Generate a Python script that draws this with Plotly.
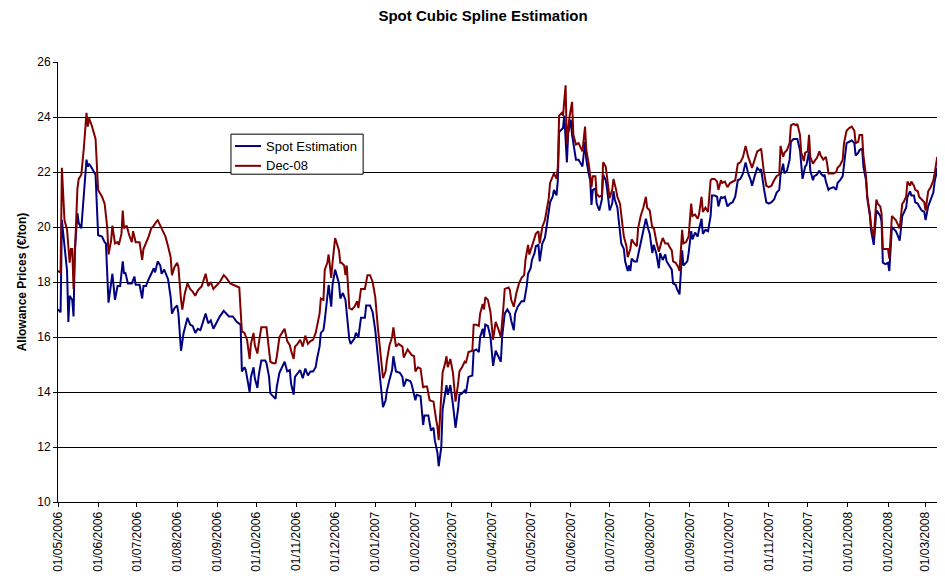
import pandas as pd
import plotly.graph_objects as go

# Values. Days are counted from 01/05/2006.
START = "2006-05-01"
END = "2008-03-16"

SPOT_DAYS = [0, 2, 3, 5, 7, 8, 9, 11, 12, 13, 15, 16, 18, 20, 22, 23, 24, 26, 29, 31,
             34, 36, 37, 39, 41, 42, 44, 46, 48, 50, 51, 52, 54, 57, 59, 60, 63, 64, 65, 66,
             68, 69, 72, 74, 75, 77, 79, 80, 82, 84, 85, 87, 88, 90, 92, 93, 95, 97, 100, 102,
             104, 106, 108, 110, 112, 114, 116, 118, 120, 122, 125, 128, 132, 135, 138, 141, 142, 144, 145, 148,
             149, 151, 152, 154, 155, 157, 160, 161, 163, 164, 166, 168, 169, 171, 173, 175, 177, 179, 180, 182,
             183, 185, 187, 189, 191, 193, 195, 197, 199, 200, 202, 203, 205, 206, 208, 209, 211, 212, 214, 215,
             217, 218, 220, 222, 223, 225, 226, 229, 230, 232, 234, 237, 238, 241, 243, 245, 247, 249, 251, 253,
             254, 256, 258, 259, 261, 264, 266, 267, 269, 272, 273, 276, 277, 280, 282, 283, 286, 288, 290, 291,
             293, 294, 296, 297, 299, 300, 301, 303, 305, 307, 309, 310, 312, 314, 315, 317, 320, 321, 323, 325,
             326, 328, 329, 330, 332, 334, 336, 338, 340, 342, 343, 345, 347, 349, 350, 352, 353, 355, 358, 360,
             362, 363, 365, 366, 368, 369, 371, 372, 374, 376, 377, 379, 380, 382, 383, 385, 386, 387, 388, 390,
             391, 393, 394, 396, 397, 399, 400, 402, 404, 405, 407, 408, 410, 411, 412, 413, 415, 416, 418, 420,
             421, 423, 424, 426, 428, 429, 430, 432, 433, 435, 437, 438, 440, 441, 442, 443, 445, 447, 449, 451,
             453, 454, 456, 457, 459, 460, 462, 464, 465, 467, 469, 470, 472, 474, 475, 477, 478, 480, 482, 483,
             486, 487, 489, 490, 492, 494, 495, 497, 498, 500, 502, 504, 505, 507, 509, 510, 512, 513, 515, 517,
             519, 521, 523, 525, 527, 529, 531, 533, 535, 536, 538, 540, 542, 543, 545, 547, 549, 551, 553, 555,
             557, 558, 560, 561, 563, 565, 566, 568, 570, 571, 573, 574, 575, 577, 578, 580, 581, 583, 584, 586,
             588, 589, 591, 592, 593, 595, 596, 599, 601, 602, 604, 606, 607, 609, 611, 613, 615, 616, 618, 619,
             621, 622, 624, 625, 627, 628, 630, 632, 633, 635, 636, 637, 639, 641, 642, 644, 645, 647, 648, 650,
             652, 653, 655, 656, 658, 659, 661, 662, 664, 665, 667, 669, 670, 672, 674, 676, 677, 679, 680, 682,
             683, 685]
SPOT_VALUES = [17.0, 16.9, 20.25, 19.2, 18.4, 16.55, 17.5, 17.35, 16.75, 19.15, 20.5, 20.15, 19.95, 21.2, 22.45, 22.2, 22.3, 22.15, 21.9, 19.7,
               19.65, 19.45, 19.4, 17.25, 17.85, 18.3, 17.35, 17.85, 17.85, 18.75, 18.3, 18.35, 17.95, 17.95, 18.2, 17.9, 17.9, 17.6, 17.4, 17.85,
               17.85, 18.0, 18.3, 18.5, 18.35, 18.75, 18.6, 18.3, 18.45, 18.2, 18.1, 17.45, 16.85, 17.05, 17.15, 16.85, 15.5, 16.15, 16.7, 16.45,
               16.4, 16.15, 16.3, 16.25, 16.6, 16.85, 16.5, 16.6, 16.3, 16.5, 16.75, 16.95, 16.75, 16.75, 16.55, 16.45, 14.75, 14.9, 14.8, 14.0,
               14.55, 14.9, 14.5, 14.15, 14.6, 15.15, 15.15, 15.05, 14.55, 13.95, 13.85, 13.75, 14.2, 14.7, 14.9, 15.1, 14.75, 14.8, 14.3, 13.9,
               14.55, 14.7, 14.8, 14.5, 14.85, 14.6, 14.75, 14.75, 14.9, 15.2, 15.65, 16.15, 16.25, 16.6, 17.35, 17.9, 17.1, 17.9, 18.45, 18.3,
               17.95, 17.4, 17.6, 17.35, 16.8, 15.9, 15.75, 15.95, 16.15, 16.0, 16.7, 16.7, 17.15, 17.15, 16.9, 16.25, 15.3, 14.45, 13.45, 13.7,
               14.05, 14.45, 14.8, 15.3, 14.75, 14.7, 14.55, 14.2, 14.45, 14.4, 14.3, 13.7, 13.9, 13.85, 12.8, 13.15, 13.15, 12.6, 12.7, 12.25,
               11.8, 11.3, 12.0, 13.35, 13.9, 14.25, 13.9, 14.25, 13.55, 12.7, 13.4, 13.9, 13.95, 14.05, 13.95, 14.55, 14.6, 15.5, 15.55, 15.45,
               16.0, 16.3, 16.0, 16.45, 16.4, 16.0, 14.95, 15.5, 15.3, 15.1, 16.0, 16.85, 17.0, 16.85, 16.6, 16.25, 16.85, 17.1, 17.3, 17.3,
               17.85, 18.3, 18.5, 18.8, 19.05, 19.3, 19.35, 18.75, 19.4, 19.6, 19.9, 20.5, 20.9, 21.1, 21.35, 21.15, 21.7, 23.45, 23.5, 23.6,
               24.05, 22.35, 23.4, 23.9, 23.35, 22.8, 22.45, 22.45, 22.25, 22.2, 23.1, 22.45, 21.9, 21.7, 20.8, 21.35, 21.4, 20.85, 20.6, 21.0,
               21.9, 21.7, 21.4, 20.6, 20.85, 21.3, 21.0, 20.7, 20.25, 19.4, 19.2, 18.75, 18.4, 18.6, 18.4, 18.85, 18.75, 18.75, 19.2, 19.65,
               20.15, 20.3, 19.9, 19.75, 19.05, 19.35, 19.05, 18.5, 19.05, 18.8, 19.0, 18.75, 18.6, 18.45, 17.95, 17.9, 17.75, 17.55, 19.15, 18.6,
               18.75, 19.05, 19.85, 19.55, 19.8, 19.65, 19.9, 20.3, 19.75, 19.9, 19.85, 20.4, 21.15, 21.15, 21.1, 20.75, 21.1, 21.05, 21.1, 20.75,
               20.85, 20.9, 21.1, 21.7, 21.75, 21.95, 22.35, 21.95, 21.7, 21.5, 21.85, 22.15, 22.05, 22.1, 21.45, 20.9, 20.85, 20.9, 21.0, 21.25,
               21.35, 21.9, 22.3, 21.95, 22.05, 22.45, 23.1, 23.2, 23.2, 23.2, 22.8, 22.15, 21.75, 22.2, 22.25, 22.75, 22.05, 21.7, 21.85, 21.9,
               22.05, 21.95, 21.85, 21.9, 21.65, 21.35, 21.4, 21.45, 21.35, 21.6, 21.7, 21.85, 22.3, 23.05, 23.1, 23.15, 23.05, 22.6, 22.7, 22.8,
               22.85, 22.2, 21.7, 21.05, 20.4, 19.85, 19.35, 20.6, 20.55, 20.4, 20.2, 18.7, 18.65, 18.7, 18.4, 20.0, 19.95, 19.85, 19.75, 19.5,
               20.4, 20.5, 20.7, 21.1, 21.3, 21.15, 21.15, 20.9, 20.85, 20.75, 20.6, 20.55, 20.25, 20.75, 21.0, 21.25, 21.65, 22.15, 21.45, 21.05,
               21.3, 21.4]

DEC08_DAYS = [0, 2, 3, 5, 7, 9, 10, 11, 12, 14, 15, 16, 18, 20, 22, 23, 24, 26, 29, 31,
              34, 36, 38, 39, 41, 42, 44, 46, 47, 49, 50, 51, 53, 55, 57, 58, 60, 63, 65, 66,
              68, 70, 72, 74, 76, 77, 80, 83, 85, 87, 88, 90, 92, 93, 95, 96, 98, 100, 102, 104,
              106, 108, 111, 113, 114, 116, 118, 120, 122, 125, 128, 130, 133, 135, 138, 140, 142, 144, 146, 148,
              149, 151, 152, 154, 155, 157, 161, 162, 164, 166, 168, 169, 171, 173, 175, 177, 179, 180, 182, 183,
              185, 187, 189, 191, 193, 195, 197, 199, 200, 202, 203, 205, 206, 208, 209, 211, 212, 214, 215, 217,
              218, 219, 221, 222, 223, 225, 227, 229, 231, 232, 234, 237, 239, 241, 243, 245, 247, 249, 251, 253,
              254, 256, 258, 259, 261, 263, 265, 266, 267, 269, 270, 273, 275, 276, 278, 280, 282, 283, 285, 287,
              289, 290, 292, 293, 294, 296, 297, 299, 300, 301, 303, 305, 307, 309, 310, 312, 314, 315, 317, 320,
              321, 323, 325, 326, 328, 329, 330, 332, 334, 336, 338, 340, 342, 344, 345, 348, 349, 350, 352, 354,
              356, 358, 360, 361, 363, 364, 366, 368, 369, 371, 372, 374, 376, 377, 379, 380, 382, 383, 385, 386,
              387, 389, 390, 392, 393, 395, 397, 398, 400, 402, 404, 405, 407, 408, 410, 411, 412, 413, 415, 416,
              418, 420, 421, 423, 424, 426, 428, 429, 431, 432, 434, 436, 437, 439, 440, 442, 443, 445, 447, 448,
              450, 452, 454, 455, 457, 459, 460, 462, 464, 466, 467, 469, 471, 472, 474, 475, 477, 479, 480, 482,
              483, 485, 487, 489, 490, 492, 494, 495, 497, 498, 500, 502, 504, 505, 507, 509, 510, 512, 513, 515,
              517, 519, 521, 523, 525, 527, 529, 531, 533, 535, 536, 538, 540, 542, 543, 545, 547, 549, 551, 553,
              555, 557, 558, 560, 561, 563, 565, 566, 568, 570, 571, 573, 574, 576, 577, 579, 580, 581, 583, 585,
              586, 588, 589, 591, 593, 594, 595, 597, 599, 601, 602, 604, 606, 607, 609, 611, 613, 615, 616, 618,
              619, 621, 622, 624, 625, 627, 628, 630, 632, 633, 635, 636, 637, 639, 641, 642, 644, 645, 647, 648,
              650, 652, 653, 655, 656, 658, 659, 661, 662, 664, 665, 667, 669, 670, 672, 674, 676, 677, 679, 680,
              682, 683, 685]
DEC08_VALUES = [18.4, 18.35, 22.15, 20.25, 19.9, 18.7, 19.2, 19.2, 17.75, 20.6, 21.4, 21.75, 21.9, 22.9, 24.15, 23.65, 23.95, 23.7, 23.2, 21.35,
                21.1, 20.85, 20.0, 19.0, 19.5, 20.05, 19.4, 19.45, 19.35, 19.75, 20.6, 19.95, 20.05, 19.7, 19.45, 19.85, 19.45, 19.45, 18.8, 19.2,
                19.4, 19.65, 19.95, 20.05, 20.2, 20.25, 19.95, 19.65, 19.3, 18.9, 18.25, 18.55, 18.7, 18.55, 17.35, 17.0, 17.6, 17.95, 17.75, 17.65,
                17.5, 17.7, 17.85, 18.15, 18.3, 17.85, 18.0, 17.75, 17.85, 18.0, 18.25, 18.15, 17.95, 17.9, 17.85, 17.8, 16.2, 16.15, 15.9, 15.2,
                15.75, 16.15, 15.7, 15.4, 15.75, 16.35, 16.35, 16.0, 15.1, 15.05, 15.05, 15.3, 16.0, 16.15, 16.3, 15.85, 15.7, 15.5, 15.2, 15.65,
                15.75, 15.9, 15.65, 16.05, 15.75, 15.85, 15.9, 16.15, 16.35, 16.85, 17.4, 17.35, 18.45, 18.7, 19.0, 18.15, 18.7, 19.6, 19.45, 19.15,
                18.7, 18.7, 18.6, 18.25, 18.6, 17.05, 17.0, 17.1, 17.3, 17.05, 17.75, 17.75, 18.25, 18.25, 18.0, 17.45, 16.35, 15.3, 14.5, 14.75,
                15.15, 15.7, 16.0, 16.35, 15.65, 15.75, 15.7, 15.65, 15.25, 15.45, 15.55, 15.35, 15.3, 14.75, 14.9, 14.85, 14.15, 14.2, 14.2, 13.7,
                13.65, 13.65, 13.0, 12.75, 12.25, 13.7, 14.7, 15.05, 15.3, 14.9, 15.2, 14.7, 13.65, 14.3, 14.75, 14.9, 15.1, 15.05, 15.45, 15.5,
                16.45, 16.45, 16.4, 16.85, 17.2, 17.0, 17.45, 17.35, 16.9, 15.9, 16.55, 16.3, 16.0, 17.1, 17.75, 17.8, 17.7, 17.35, 17.1, 17.6,
                17.95, 18.15, 18.25, 18.8, 19.35, 19.0, 19.3, 19.6, 19.75, 19.85, 19.4, 20.0, 20.25, 20.5, 21.05, 21.6, 21.85, 21.95, 21.75, 22.2,
                24.05, 24.15, 24.05, 25.15, 23.0, 24.0, 24.55, 23.35, 23.0, 23.05, 22.85, 22.75, 23.65, 22.8, 22.25, 21.7, 21.45, 21.85, 21.85, 21.2,
                21.1, 21.15, 22.35, 22.2, 21.85, 21.05, 21.35, 21.75, 21.35, 21.1, 20.85, 19.9, 19.65, 19.3, 18.9, 19.2, 19.55, 19.4, 19.3, 19.95,
                20.4, 20.7, 21.1, 20.7, 20.6, 19.95, 20.0, 19.5, 19.1, 19.45, 19.6, 19.4, 19.4, 19.3, 19.15, 18.75, 18.7, 18.55, 18.4, 19.9,
                19.4, 19.45, 19.65, 20.85, 20.4, 20.45, 20.3, 20.45, 21.1, 20.55, 20.7, 20.55, 21.7, 21.75, 21.75, 21.65, 21.35, 21.7, 21.6, 21.65,
                21.45, 21.6, 21.65, 21.7, 22.3, 22.35, 22.55, 22.95, 22.55, 22.3, 22.15, 22.45, 22.75, 22.8, 22.85, 22.05, 21.5, 21.45, 21.5, 21.7,
                21.85, 21.9, 22.95, 22.55, 22.7, 22.8, 23.05, 23.7, 23.75, 23.7, 23.75, 23.35, 22.7, 22.4, 22.7, 22.75, 23.35, 22.55, 22.3, 22.45,
                22.5, 22.75, 22.6, 22.45, 22.55, 22.3, 21.95, 21.95, 21.95, 22.0, 22.15, 22.25, 22.45, 23.05, 23.5, 23.6, 23.65, 23.5, 23.05, 23.1,
                23.35, 23.35, 22.6, 21.85, 21.1, 20.5, 20.0, 19.65, 21.0, 20.85, 20.75, 20.5, 19.2, 19.2, 19.2, 18.85, 20.4, 20.35, 20.25, 20.15,
                19.95, 20.85, 20.9, 21.1, 21.65, 21.5, 21.65, 21.5, 21.35, 21.3, 21.1, 21.0, 20.9, 20.6, 21.3, 21.45, 21.7, 21.95, 22.55, 22.0,
                21.65, 21.85, 21.9]

FONT = "Arial, Liberation Sans, sans-serif"
NAVY = "#000080"
MAROON = "#800000"

start = pd.Timestamp(START)
spot_x = start + pd.to_timedelta(SPOT_DAYS, unit="D")
dec08_x = start + pd.to_timedelta(DEC08_DAYS, unit="D")
month_ticks = pd.date_range(START, "2008-03-01", freq="MS")

fig = go.Figure()
fig.add_trace(go.Scatter(x=spot_x, y=SPOT_VALUES, mode="lines", name="Spot Estimation",
                         line=dict(color=NAVY, width=2)))
fig.add_trace(go.Scatter(x=dec08_x, y=DEC08_VALUES, mode="lines", name="Dec-08",
                         line=dict(color=MAROON, width=2)))

# Excel-style legend box drawn by hand (paper coordinates)
fig.add_shape(type="rect", xref="paper", yref="paper", x0=0.195, x1=0.344, y0=0.745, y1=0.836,
              line=dict(color="black", width=1), fillcolor="white", layer="above")
for name, color, ly in [("Spot Estimation", NAVY, 0.809), ("Dec-08", MAROON, 0.764)]:
    fig.add_shape(type="line", xref="paper", yref="paper", x0=0.1995, x1=0.2289, y0=ly, y1=ly,
                  line=dict(color=color, width=2), layer="above")
    fig.add_annotation(text=name, xref="paper", yref="paper", x=0.2322, y=ly,
                       xanchor="left", yanchor="middle", showarrow=False,
                       font=dict(size=13, family=FONT, color="black"))

fig.update_layout(
    width=937, height=572,
    margin=dict(l=50, r=0, t=54, b=78),
    paper_bgcolor="white", plot_bgcolor="white",
    font=dict(family=FONT, size=12, color="black"),
    title=dict(text="<b>Spot Cubic Spline Estimation</b>", x=0.507, xanchor="center",
               y=0.986, yanchor="middle", font=dict(size=15, family=FONT)),
    showlegend=False,
    xaxis=dict(type="date", range=[start, pd.Timestamp(END)],
               tickvals=month_ticks, tickformat="%d/%m/%Y", tickangle=-90,
               tickfont=dict(size=12), showgrid=False, zeroline=False,
               showline=True, linecolor="black", linewidth=1,
               ticks="outside", ticklen=4, tickcolor="black"),
    yaxis=dict(range=[10, 26], dtick=2, tick0=10,
               title=dict(text="<b>Allowance Prices (€/ton)</b>", font=dict(size=12), standoff=8),
               tickfont=dict(size=12), showgrid=True, gridcolor="black", gridwidth=1,
               zeroline=False, showline=True, linecolor="black", linewidth=1,
               ticks="outside", ticklen=4, tickcolor="black"),
)

fig.write_html("out.html")
